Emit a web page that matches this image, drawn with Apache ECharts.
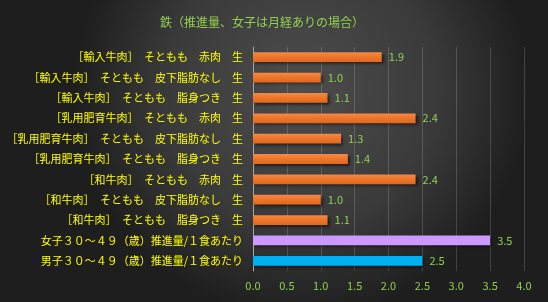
<!DOCTYPE html>
<html><head><meta charset="utf-8">
<script src="https://cdn.jsdelivr.net/npm/echarts@6/dist/echarts.min.js"></script>
<style>html,body{margin:0;padding:0;background:#2a2a2a;}#c{width:548px;height:302px;}</style>
</head><body><div id="c"></div>
<script>
const titleText = '鉄（推進量、女子は月経ありの場合）';
const categories = [
  '［輸入牛肉］　そともも　赤肉　生',
  '［輸入牛肉］　そともも　皮下脂肪なし　生',
  '［輸入牛肉］　そともも　脂身つき　生',
  '［乳用肥育牛肉］　そともも　赤肉　生',
  '［乳用肥育牛肉］　そともも　皮下脂肪なし　生',
  '［乳用肥育牛肉］　そともも　脂身つき　生',
  '［和牛肉］　そともも　赤肉　生',
  '［和牛肉］　そともも　皮下脂肪なし　生',
  '［和牛肉］　そともも　脂身つき　生',
  '女子３０～４９（歳）推進量/１食あたり',
  '男子３０～４９（歳）推進量/１食あたり'
];
const values = [1.9, 1.0, 1.1, 2.4, 1.3, 1.4, 2.4, 1.0, 1.1, 3.5, 2.5];
const barColors = ['orange','orange','orange','orange','orange','orange','orange','orange','orange','purple','blue'];

const orangeGrad = {type:'linear',x:0,y:0,x2:0,y2:1,colorStops:[{offset:0,color:'#f58a45'},{offset:0.5,color:'#ee7428'},{offset:1,color:'#e0681e'}]};
const colorMap = {orange: orangeGrad, purple:'#cc99ff', blue:'#00b0f0'};

const chart = echarts.init(document.getElementById('c'));
chart.setOption({
  backgroundColor: {type:'radial',x:0.55,y:0.3,r:0.75,colorStops:[{offset:0,color:'#4d4d4d'},{offset:0.6,color:'#3a3a3a'},{offset:1,color:'#1e1e1e'}]},
  animation:false,
  title:{text:titleText,left:155,top:11,textStyle:{color:'#92d050',fontSize:12,fontWeight:'normal',fontFamily:'Noto Sans CJK JP'}},
  grid:{left:253,right:24,top:47,bottom:31,containLabel:false},
  xAxis:{type:'value',min:0,max:4,interval:0.5,
    axisLine:{show:false},axisTick:{show:false},
    splitLine:{lineStyle:{color:'rgba(255,255,255,0.16)',width:1}},
    axisLabel:{color:'#92d050',fontSize:11,fontFamily:'Noto Sans CJK JP',margin:9,formatter:v=>v.toFixed(1)}},
  yAxis:{type:'category',data:categories,inverse:true,
    axisLine:{show:true,lineStyle:{color:'#a6a6a6',width:1}},axisTick:{show:false},
    axisLabel:{color:'#ffff00',fontSize:11,fontFamily:'Noto Sans CJK JP',margin:10}},
  series:[{type:'bar',barWidth:'48%',
    data:values.map((v,i)=>({value:v,itemStyle:{color:colorMap[barColors[i]]}})),
    itemStyle:{shadowColor:'rgba(0,0,0,0.55)',shadowBlur:3,shadowOffsetX:2,shadowOffsetY:2},
    label:{show:true,position:'right',distance:7,color:'#92d050',fontSize:11,fontFamily:'Noto Sans CJK JP',formatter:p=>p.value.toFixed(1)}
  }]
});
</script></body></html>
